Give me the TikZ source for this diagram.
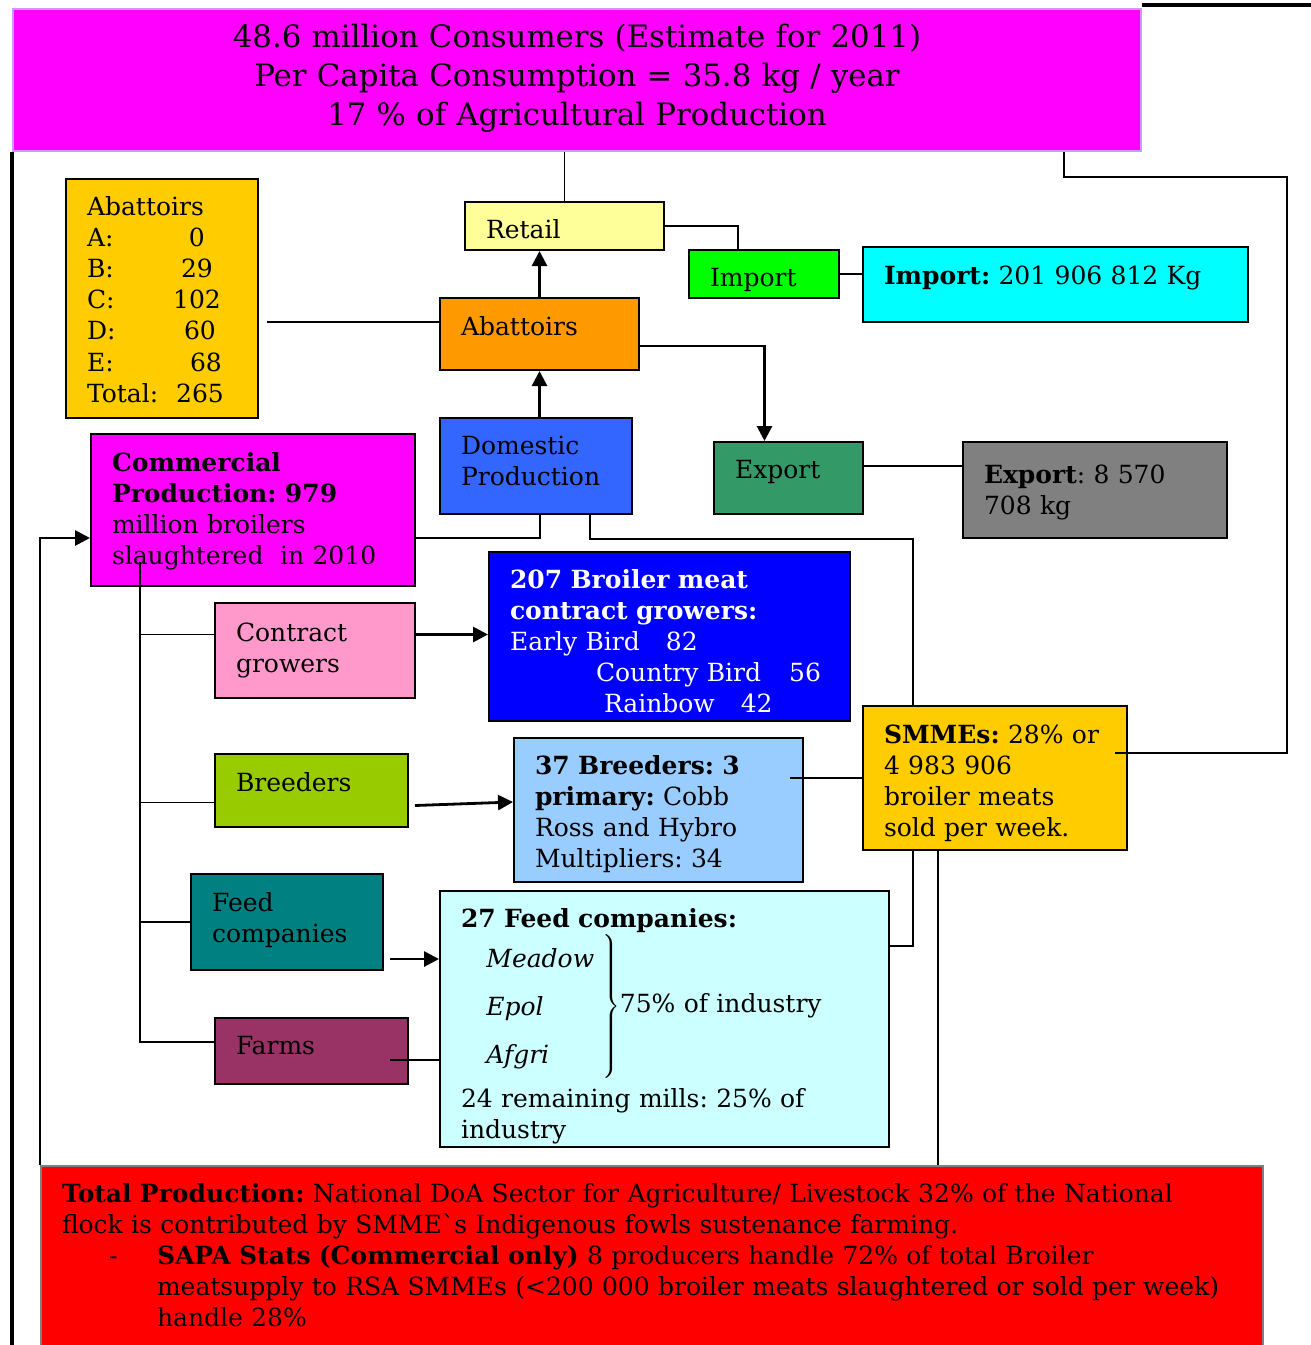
\documentclass[tikz,border=0pt]{standalone}
\usepackage{fontspec}
\setmainfont{DejaVu Serif}
\usetikzlibrary{arrows.meta}
\definecolor{consmag}{HTML}{FF00FF}
\definecolor{lilac}{HTML}{CC99FF}
\definecolor{retailyel}{HTML}{FFFF99}
\definecolor{impgreen}{HTML}{00FF00}
\definecolor{impcyan}{HTML}{00FFFF}
\definecolor{abgold}{HTML}{FFCC00}
\definecolor{aborange}{HTML}{FF9900}
\definecolor{domblue}{HTML}{3366FF}
\definecolor{expgreen}{HTML}{339966}
\definecolor{expgray}{HTML}{808080}
\definecolor{contrpink}{HTML}{FF99CC}
\definecolor{growblue}{HTML}{0000FF}
\definecolor{breedlime}{HTML}{99CC00}
\definecolor{breedsky}{HTML}{99CCFF}
\definecolor{feedteal}{HTML}{008080}
\definecolor{feedice}{HTML}{CCFFFF}
\definecolor{farmplum}{HTML}{993366}
\definecolor{totalred}{HTML}{FF0000}
\newcommand*{\boxfont}{\fontsize{12.5}{15.6}\selectfont\frenchspacing}
\tikzset{
  box/.style={draw, line width=1pt, rectangle, anchor=north west, align=left,
    inner xsep=10.5pt, inner ysep=0pt, font=\boxfont},
  link/.style={line width=0.9pt},
  arr/.style={line width=1.4pt, -{Triangle[length=7.5pt,width=7.5pt]}},
  frame/.style={line width=2.2pt}
}

\begin{document}
\begin{tikzpicture}[x=0.5pt, y=-0.5pt]
  \clip (0,0) rectangle (1311,1345);
  \fill[white] (0,0) rectangle (1311,1345);

  \coordinate (rim) at (1287,177);
  \coordinate (page-bot) at (0,1345);
  \coordinate (page-tr) at (1311,5);

  \node[box, fill=consmag, draw=lilac, align=center, text width=543pt,
    text height=19pt, text depth=52pt, font=\fontsize{15.4}{19.5}\selectfont]
    (cons) at (12,8)
    {48.6 million Consumers (Estimate for 2011)\\
     Per Capita Consumption = 35.8 kg / year\\
     17 \% of Agricultural Production};

  \node[box, fill=retailyel, text width=78.5pt, text height=18pt, text depth=6pt]
    (retail) at (464,201) {Retail};
  \node[box, fill=impgreen, text width=54pt, text height=18pt, text depth=6pt]
    (imp) at (688,249) {Import};
  \node[box, fill=impcyan, text width=171.5pt, text height=18.5pt, text depth=19pt]
    (impinfo) at (862,246) {\textbf{Import:} 201 906 812 Kg};

  \node[box, fill=abgold, text width=75pt, text height=18pt, text depth=101.5pt]
    (ablist) at (65,178)
    {\begin{tabular}[t]{@{}l@{\hspace{7.5pt}}r@{}}
       \multicolumn{2}{@{}l@{}}{Abattoirs}\\
       A: & 0\kern9.5pt\\
       B: & 29\kern5.5pt\\
       C: & 102\kern1.5pt\\
       D: & 60\kern4pt\\
       E: & 68\kern1pt\\
       Total: & 265
     \end{tabular}};

  \node[box, fill=aborange, text width=78.5pt, text height=18.5pt, text depth=17.5pt]
    (abat) at (439,297) {Abattoirs};
  \node[box, fill=domblue, text width=75pt, text height=18pt, text depth=30pt]
    (dom) at (439,417) {Domestic\\ Production};
  \node[box, fill=expgreen, text width=53.5pt, text height=18pt, text depth=18pt]
    (exp) at (713,441) {Export};
  \node[box, fill=expgray, text width=111pt, text height=20.5pt, text depth=27.5pt]
    (expinfo) at (962,441) {\textbf{Export}: 8 570\\ 708 kg};

  \node[box, fill=consmag, text width=141pt, text height=18.5pt, text depth=57.5pt]
    (comm) at (90,433)
    {\textbf{Commercial}\\ \textbf{Production: 979}\\ million broilers\\ slaughtered\ \ in 2010};

  \node[box, fill=contrpink, text width=79pt, text height=19pt, text depth=28.5pt]
    (contr) at (214,602) {Contract\\ growers};
  \node[box, fill=growblue, text=white, text width=159.5pt, text height=18pt, text depth=66.5pt]
    (grow) at (488,551)
    {\textbf{207 Broiler meat}\\
     \textbf{contract growers:}\\
     Early Bird\hspace{13pt}82\\
     \hspace*{43pt}Country Bird\hspace{14pt}56\\
     \hspace*{47pt}Rainbow\hspace{13pt}42};

  \node[box, fill=breedlime, text width=75.5pt, text height=18.5pt, text depth=18pt]
    (breed) at (214,753) {Breeders};
  \node[box, fill=breedsky, text width=123.5pt, text height=18pt, text depth=54pt]
    (breedinfo) at (513,737)
    {\textbf{37 Breeders: 3}\\ \textbf{primary:} Cobb\\ Ross and Hybro\\ Multipliers: 34};

  \node[box, fill=feedteal, text width=75pt, text height=18.5pt, text depth=29.5pt]
    (feed) at (190,873) {Feed\\ companies};
  \node[box, fill=feedice, text width=203.5pt, text height=18pt, text depth=110pt]
    (feedinfo) at (439,890)
    {\textbf{27 Feed companies:}\\
     \hspace*{11.5pt}$\def\arraystretch{1.54}\left.\begin{tabular}{@{}l@{\hspace{4pt}}}
       \itshape Meadow\\ \itshape Epol\\ \itshape Afgri
     \end{tabular}\right\}$75\% of industry\\[4pt]
     24 remaining mills: 25\% of\\ industry};

  \node[box, fill=farmplum, text width=75.5pt, text height=18pt, text depth=15pt]
    (farms) at (214,1017) {Farms};

  \node[box, fill=abgold, text width=111pt, text height=18.5pt, text depth=53.5pt]
    (smme) at (862,705)
    {\textbf{SMMEs:} 28\% or\\ 4 983 906\\ broiler meats\\ sold per week.};

  \node[box, fill=totalred, draw=gray, text width=590pt, text height=18pt, text depth=100pt]
    (total) at (40,1165)
    {\textbf{Total Production:} National DoA Sector for Agriculture/ Livestock 32\% of the National\\
     flock is contributed by SMME\textasciigrave s Indigenous fowls sustenance farming.\\
     \hspace*{23.5pt}\makebox[24pt][l]{-}\textbf{SAPA Stats (Commercial only)} 8 producers handle 72\% of total Broiler\\
     \hspace*{47.5pt}meatsupply to RSA SMMEs (<200 000 broiler meats slaughtered or sold per week)\\
     \hspace*{47.5pt}handle 28\%};

  \coordinate (trunk) at ([xshift=25pt,yshift=12.5pt]comm.south west);

  \draw[frame] (cons.south west) -- (cons.south west |- page-bot);
  \draw[frame] (cons.north east |- page-tr) -- (page-tr);

  \draw[link] (retail.north) -- (retail.north |- cons.south);
  \draw[link] (retail.east) -| ([xshift=25pt]imp.north west);
  \draw[link] (imp.east) -- (impinfo.west |- imp.east);
  \draw[link] ([yshift=6pt]abat.west) -- ([xshift=4pt,yshift=6pt]ablist.east |- abat.west);
  \draw[arr] (abat.north) -- (abat.north |- retail.south);
  \draw[arr] (abat.south |- dom.north) -- (abat.south);
  \draw[arr] ([yshift=-6pt]abat.east) -| ([xshift=-12pt]exp.north);
  \draw[link] ([yshift=6pt]exp.east) -- ([yshift=6pt]expinfo.west |- exp.east);
  \draw[link] ([xshift=2pt]dom.south) |- ([yshift=-14pt]comm.east);
  \draw[link] ([xshift=27pt]dom.south) -- ++(0,24) -| ([xshift=25.5pt]smme.north west);
  \draw[link] ([xshift=25.5pt]smme.south west) |- ([yshift=36.5pt]feedinfo.east);
  \draw[link] ([xshift=38pt]smme.south west) -- ([xshift=38pt]smme.south west |- total.north);
  \draw[link] ([xshift=-39pt]cons.south east) |- (rim) |- ([xshift=-6.5pt,yshift=12.5pt]smme.east);
  \draw[link] ([xshift=-7pt]breedinfo.east |- smme.west) -- (smme.west);
  \draw[arr] (total.north west) |- ([yshift=-14pt]comm.west);

  \draw[link] (trunk) |- ([yshift=4.5pt]farms.west);
  \draw[link] ([yshift=8pt]contr.west) -- ([yshift=8pt]trunk |- contr.west);
  \draw[link] ([yshift=-6pt]breed.west) -- ([yshift=-6pt]trunk |- breed.west);
  \draw[link] (feed.west) -- (trunk |- feed.west);

  \draw[arr] ([yshift=8pt]contr.east) -- ([yshift=8pt]grow.west |- contr.east);
  \draw[arr] ([xshift=3pt,yshift=-7.5pt]breed.east) -- ([yshift=4pt]breedinfo.west);
  \draw[arr] ([xshift=3pt,yshift=-18.5pt]feed.east) -- ([yshift=-18.5pt]feedinfo.west |- feed.east);
  \draw[link] ([xshift=-9.5pt,yshift=-4.5pt]farms.east) -- ([yshift=-4.5pt]feedinfo.west |- farms.east);
\end{tikzpicture}
\end{document}
